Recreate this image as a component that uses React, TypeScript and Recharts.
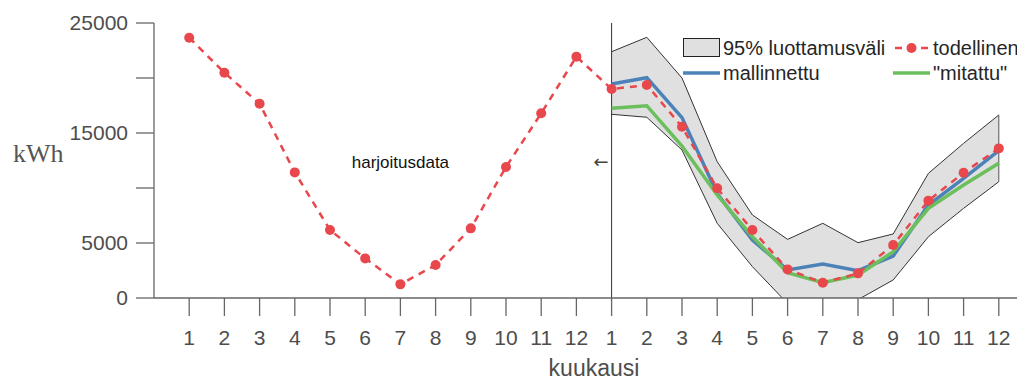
import React from 'react';
import {
  ComposedChart,
  Line,
  Area,
  XAxis,
  YAxis,
  ReferenceLine,
  ReferenceDot,
} from 'recharts';

// ---- data ----
const monthLabels = [1, 2, 3, 4, 5, 6, 7, 8, 9, 10, 11, 12];
const trainActual = [23660, 20480, 17660, 11420, 6180, 3600, 1240, 3000, 6330, 11910, 16790, 21940];
const testActual = [19000, 19360, 15570, 9970, 6180, 2600, 1390, 2240, 4820, 8850, 11390, 13600];
const modeled = [19450, 20030, 16400, 9500, 5270, 2550, 3090, 2480, 3820, 8450, 10880, 13390];
const measured = [17240, 17480, 13800, 9360, 5570, 2300, 1390, 2090, 4210, 8150, 10270, 12240];
const ciUpper = [22390, 23700, 20000, 12390, 7550, 5330, 6790, 5030, 5820, 11330, 14060, 16640];
const ciLower = [16700, 16430, 13450, 6790, 2850, -500, -1200, -150, 1640, 5570, 8150, 10570];
const yTicks = [0, 5000, 10000, 15000, 20000, 25000];
const yLabelled = [0, 5000, 15000, 25000];

const RED = '#e8474c';
const BLUE = '#4d82b8';
const GREEN = '#6bbf5c';
const BAND = '#e0e0e0';
const TEXT = '#4d4d4d';
const AXIS = '#666666';

const n = monthLabels.length;
const data = [
  ...monthLabels.map((m, i) => ({ x: i + 1, actual: trainActual[i] })),
  ...monthLabels.map((m, i) => ({
    x: n + i + 1,
    actual: testActual[i],
    modeled: modeled[i],
    measured: measured[i],
    ci: [ciLower[i], ciUpper[i]],
  })),
];
const xTicks = data.map((d) => d.x);

const FONT = '"Liberation Sans", Arial, Helvetica, sans-serif';

function LegendBox() {
  const row: React.CSSProperties = { display: 'flex', alignItems: 'center', height: 25 };
  const txt: React.CSSProperties = { fontSize: 20, color: '#262626', marginLeft: 3, whiteSpace: 'nowrap' };
  const cell: React.CSSProperties = { display: 'flex', alignItems: 'center', width: 210 };
  return (
    <div style={{ position: 'absolute', left: 675, top: 27, fontFamily: FONT, lineHeight: 1 }}>
      <div style={row}>
        <div style={cell}>
          <svg width={37} height={20}>
            <rect x={0.5} y={0.5} width={36} height={18} fill={BAND} stroke="#222" strokeWidth={1} />
          </svg>
          <span style={txt}>95% luottamusväli</span>
        </div>
        <div style={cell}>
          <svg width={37} height={20}>
            <line x1={0} y1={10} x2={37} y2={10} stroke={RED} strokeWidth={2.5} strokeDasharray="7 6" strokeDashoffset={-2} />
            <circle cx={18.5} cy={10} r={5} fill={RED} />
          </svg>
          <span style={txt}>todellinen</span>
        </div>
      </div>
      <div style={row}>
        <div style={cell}>
          <svg width={37} height={20}>
            <line x1={0} y1={10} x2={37} y2={10} stroke={BLUE} strokeWidth={3.5} />
          </svg>
          <span style={txt}>mallinnettu</span>
        </div>
        <div style={cell}>
          <svg width={37} height={20}>
            <line x1={0} y1={10} x2={37} y2={10} stroke={GREEN} strokeWidth={3.5} />
          </svg>
          <span style={txt}>"mitattu"</span>
        </div>
      </div>
    </div>
  );
}

export default function App() {
  return (
    <div style={{ position: 'relative', width: 1017, height: 373, overflow: 'hidden', background: '#fff' }}>
      <ComposedChart
        width={1030}
        height={373}
        data={data}
        margin={{ top: 15, right: 4, left: 0, bottom: 0 }}
        style={{ fontFamily: FONT }}
      >
        <XAxis
          dataKey="x"
          type="number"
          domain={[0, 25]}
          ticks={xTicks}
          interval={0}
          allowDecimals={false}
          tickFormatter={(v: number) => String(monthLabels[(v - 1) % n])}
          height={83}
          tickSize={18}
          tickMargin={14}
          stroke={AXIS}
          strokeWidth={1.3}
          tick={{ fill: TEXT, fontSize: 21 }}
          label={{ value: 'kuukausi', position: 'insideBottom', offset: 5, fill: TEXT, fontSize: 23 }}
        />
        <YAxis
          type="number"
          domain={[0, 25000]}
          allowDataOverflow
          ticks={yTicks}
          interval={0}
          width={146}
          tickSize={18}
          tickMargin={8}
          stroke={AXIS}
          strokeWidth={1.3}
          tick={{ fill: TEXT, fontSize: 21 }}
          tickFormatter={(v: number) => (yLabelled.includes(v) ? String(v) : '')}
          label={{
            value: 'kWh',
            position: 'insideLeft',
            offset: 5,
            dy: -8,
            fill: '#555',
            fontSize: 26,
            fontFamily: '"Liberation Serif", "DejaVu Serif", serif',
          }}
        />
        <Area
          dataKey="ci"
          type="linear"
          fill={BAND}
          fillOpacity={1}
          stroke="#333"
          strokeWidth={1}
          isAnimationActive={false}
          activeDot={false}
          dot={false}
        />
        <ReferenceLine x={n + 1} stroke="#333" strokeWidth={1} />
        <ReferenceLine
          segment={[
            { x: 2 * n, y: ciLower[n - 1] },
            { x: 2 * n, y: ciUpper[n - 1] },
          ]}
          stroke="#555"
          strokeWidth={1}
        />
        <Line
          dataKey="modeled"
          type="linear"
          stroke={BLUE}
          strokeWidth={3.5}
          dot={false}
          activeDot={false}
          isAnimationActive={false}
        />
        <Line
          dataKey="measured"
          type="linear"
          stroke={GREEN}
          strokeWidth={3.5}
          dot={false}
          activeDot={false}
          isAnimationActive={false}
        />
        <Line
          dataKey="actual"
          type="linear"
          stroke={RED}
          strokeWidth={2.5}
          strokeDasharray="7 6"
          dot={{ r: 5, fill: RED, stroke: 'none', strokeDasharray: '' }}
          activeDot={false}
          isAnimationActive={false}
        />
        <ReferenceDot
          x={7}
          y={12400}
          r={0}
          fill="none"
          stroke="none"
          label={{ value: 'harjoitusdata', position: 'center', fill: '#111', fontSize: 17 }}
        />
        <ReferenceDot
          x={12.7}
          y={12400}
          r={0}
          fill="none"
          stroke="none"
          label={{ value: '←', position: 'center', fill: '#444', fontSize: 18, fontFamily: '"DejaVu Sans", sans-serif' }}
        />
      </ComposedChart>
      <LegendBox />
    </div>
  );
}
